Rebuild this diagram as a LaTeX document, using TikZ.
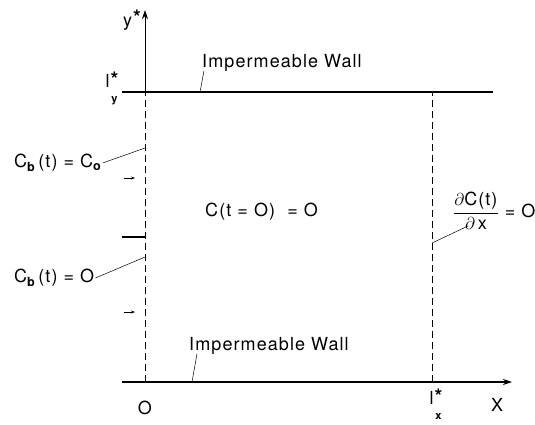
\documentclass[tikz,border=0pt]{standalone}
\usepackage{fontspec}
\setmainfont[LetterSpace=6]{TeX Gyre Heros}
\usetikzlibrary{calc, arrows.meta, positioning}

\newcommand{\bstar}{{\fontsize{20}{20}\selectfont\bfseries *}}
\newcommand{\starred}[1]{l\kern1pt\raisebox{-5pt}{\begin{tabular}{@{}c@{}}\raisebox{-5pt}{\bstar}\\[0pt]{\fontsize{11}{11}\selectfont\bfseries #1}\end{tabular}}}

\begin{document}
\begin{tikzpicture}[x=1pt, y=-1pt,
    wall/.style={line width=2.2pt},
    axis/.style={line width=1pt},
    bound/.style={line width=0.9pt, dash pattern=on 7pt off 4pt},
    lead/.style={line width=0.5pt},
    lbl/.style={font=\fontsize{18}{21}\selectfont, inner sep=1pt}]
    \useasboundingbox (0,0) rectangle (535,424);

    % frame of the domain
    \coordinate (origin) at (145,382);
    \coordinate (ytop)   at (145,92);
    \coordinate (yend)   at (145,10);
    \coordinate (xend)   at (512,382);
    \coordinate (rtop)   at (432,92);
    \coordinate (rbot)   at (432,382);
    \coordinate (wtl)    at (122,92);
    \coordinate (wtr)    at (493,92);
    \coordinate (wbl)    at (122,382);
    \coordinate (step)   at (122,237);
    \coordinate (stepend) at (145,237);

    \draw[wall] (wtl) -- (wtr);
    \draw[wall, -{Stealth[length=9pt, width=6pt]}] (wbl) -- (xend);
    \draw[axis, -{Stealth[length=9pt, width=6pt]}] (ytop) -- (yend);
    \draw[bound] (origin) -- (ytop);
    \draw[bound] (rbot) -- (rtop);
    \draw[wall] (step) -- (stepend);

    % inflow arrows
    \coordinate (a1s) at (124,178);  \coordinate (a1e) at (135,178);
    \coordinate (a2s) at (124,312);  \coordinate (a2e) at (135,312);
    \draw[lead, -{Stealth[length=4pt, width=3pt]}] (a1s) -- (a1e);
    \draw[lead, -{Stealth[length=4pt, width=3pt]}] (a2s) -- (a2e);

    % labels
    \node[lbl, anchor=east]  (ylab)   at (142,20)  {y\kern1pt\raisebox{2pt}{\bstar}};
    \node[lbl]               (lylab)  at (112,88)  {\starred{y}};
    \node[lbl, anchor=west]  (topwall) at (201,63) {Impermeable Wall};
    \node[lbl, anchor=west]  (botwall) at (188,346) {Impermeable Wall};
    \node[lbl, anchor=west]  (cbco)   at (13,163)  {C\textsubscript{\bfseries b}\,(t) = C\textsubscript{\bfseries o}};
    \node[lbl, anchor=west]  (cbz)    at (13,278)  {C\textsubscript{\bfseries b}\,(t) = O};
    \node[lbl, anchor=west]  (cinit)  at (204,212) {C(t = O) \ = O};
    \node[lbl, anchor=west]  (dcdx)   at (452,211) {$\displaystyle\frac{\partial\mbox{C(t)}}{\partial\,\mbox{x}}$ = O};
    \node[lbl]               (olab)   at (145,408) {O};
    \node[lbl]               (lxlab)  at (436,405) {\starred{x}};
    \node[lbl]               (xlab)   at (497,405) {X};

    % leaders
    \coordinate (tw)  at (200,92);
    \coordinate (bw)  at (192,382);
    \coordinate (lco) at (145,148);
    \coordinate (lcz) at (145,257);
    \coordinate (ldc) at (432,243);
    \draw[lead] ($(topwall.south west)+(3,-2)$) -- (tw);
    \draw[lead] ($(botwall.south west)+(9,-2)$) -- (bw);
    \draw[lead] (cbco.east) -- (lco);
    \draw[lead] (cbz.east) -- (lcz);
    \draw[lead] ($(dcdx.west)+(16,15)$) -- (ldc);
\end{tikzpicture}
\end{document}
